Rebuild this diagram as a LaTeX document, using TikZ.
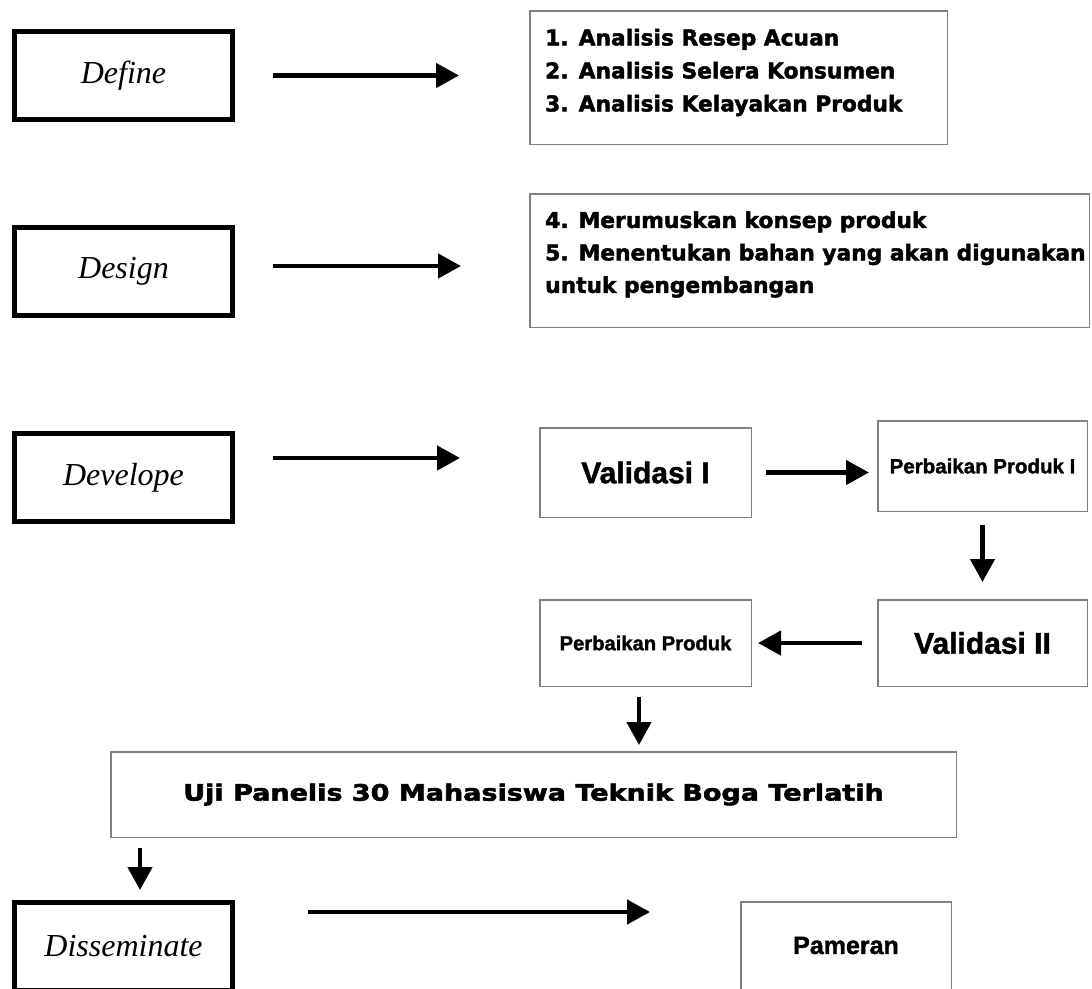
\documentclass[tikz,border=0pt]{standalone}
\usepackage{fontspec}
\setmainfont{Liberation Serif}
\newfontfamily\listfont{DejaVu Sans}[FakeBold=2]
\newfontfamily\widefont{DejaVu Sans}[FakeStretch=1.2,FakeBold=2.5]
\newfontfamily\valfont{Liberation Sans}[FakeBold=1.5]
\usetikzlibrary{arrows.meta}
\begin{document}
\begin{tikzpicture}[x=1pt,y=-1pt,
  phase/.style={draw=black, line width=5pt, minimum width=218pt, minimum height=88pt, inner sep=0pt,
    font=\fontsize{32}{36}\selectfont\itshape},
  thinbox/.style={draw=black!50, line width=1.5pt, inner sep=0pt},
  listtext/.style={inner sep=0pt, align=left, anchor=west},
  arr/.style={line width=4.5pt, -{Triangle[length=23pt,width=24pt]}},
  valtext/.style={font=\valfont\bfseries\fontsize{30}{34}\selectfont},
  perbtext/.style={font=\valfont\bfseries\fontsize{20.5}{24}\selectfont}
]
\useasboundingbox (0,0) rectangle (1092,988);
\fill[white] (0,0) rectangle (1092,988);
\clip (0,0) rectangle (1092,988);

% left phase boxes
\node[phase] (define) at (123.5,75.5) {Define};
\node[phase] (design) at (123.5,271) {Design};
\node[phase] (develope) at (123.5,477.5) {Develope};
\node[phase] (dissem) at (123.5,946.5) {Disseminate};

% right boxes
\node[thinbox, minimum width=417.5pt, minimum height=133.5pt] (box1) at (738.5,77.5) {};
\node[listtext, font=\listfont\bfseries\fontsize{21.75}{33}\selectfont] (t1) at (545,72.5)
  {1. Analisis Resep Acuan\\2. Analisis Selera Konsumen\\3. Analisis Kelayakan Produk};

\node[thinbox, minimum width=559.5pt, minimum height=133.5pt] (box2) at (809.5,260.5) {};
\node[listtext, font=\listfont\bfseries\fontsize{21.75}{32.5}\selectfont] (t2) at (545,254.5)
  {4. Merumuskan konsep produk\\5. Menentukan bahan yang akan digunakan\\untuk pengembangan};

\node[thinbox, valtext, minimum width=211.5pt, minimum height=89.5pt] (val1) at (645.5,472.5) {Validasi I};
\node[thinbox, perbtext, minimum width=209.5pt, minimum height=90.5pt] (perb1) at (982.5,466) {Perbaikan Produk I};
\node[thinbox, valtext, minimum width=209.5pt, minimum height=86.5pt] (val2) at (982.5,643) {Validasi II};
\node[thinbox, perbtext, font=\valfont\bfseries\fontsize{20.2}{24}\selectfont, minimum width=211.5pt, minimum height=86.5pt] (perb) at (645.5,643) {Perbaikan Produk};
\node[thinbox, font=\widefont\bfseries\fontsize{22.5}{26}\selectfont, minimum width=845.5pt, minimum height=85.5pt] (uji) at (533.5,794.5) {Uji Panelis 30 Mahasiswa Teknik Boga Terlatih};
\node[thinbox, font=\valfont\bfseries\fontsize{25}{28}\selectfont, minimum width=210.5pt, minimum height=87.5pt] (pameran) at (846,945.5) {Pameran};

% coordinates for free arrow starts
\coordinate (devA) at (273,458);
\coordinate (desA) at (273,266);
\coordinate (disA) at (308,912);
\coordinate (ujiD) at (140,838);
\coordinate (perbD) at (639,687);

% arrows
\draw[arr, shorten <=38pt, shorten >=70pt] (define.east) -- (define.east -| box1.west);
\draw[arr, shorten >=68pt] (desA) -- (desA -| box2.west);
\draw[arr, shorten >=79pt] (devA) -- (devA -| val1.west);
\draw[arr, shorten >=90pt] (disA) -- (disA -| pameran.west);
\draw[arr, shorten <=14pt, shorten >=8pt] (val1.east) -- (val1.east -| perb1.west);
\draw[arr, shorten <=13pt, shorten >=17pt] (perb1.south) -- (perb1.south |- val2.north);
\draw[arr, shorten <=15pt, shorten >=6pt] (val2.west) -- (val2.west -| perb.east);
\draw[arr, shorten <=10pt, shorten >=6pt] (perbD) -- (perbD |- uji.north);
\draw[arr, shorten <=10pt, shorten >=10pt] (ujiD) -- (ujiD |- dissem.north);
\end{tikzpicture}
\end{document}
